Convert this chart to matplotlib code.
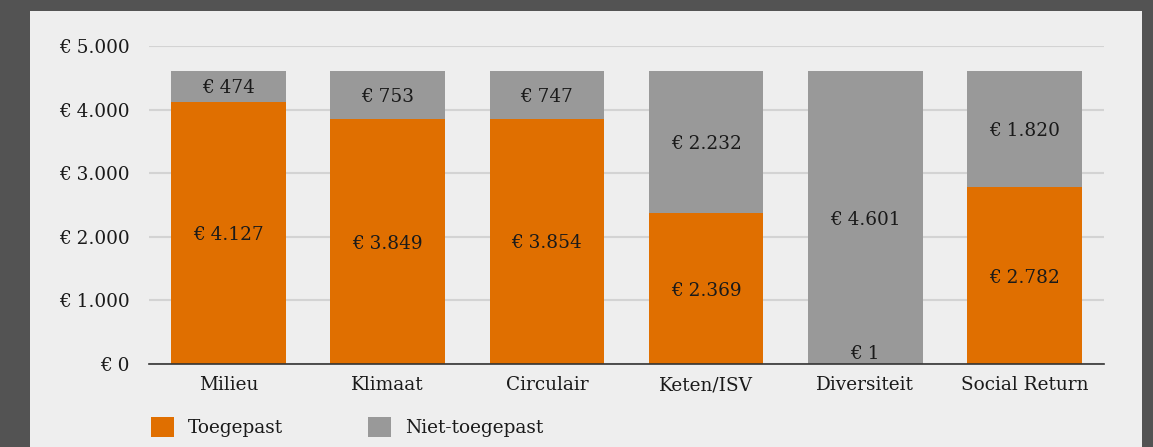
import matplotlib.pyplot as plt
import numpy as np
from matplotlib.patches import Patch

# data
categories = ["Milieu", "Klimaat", "Circulair", "Keten/ISV", "Diversiteit", "Social Return"]
toegepast = [4127, 3849, 3854, 2369, 1, 2782]
niet_toegepast = [474, 753, 747, 2232, 4601, 1820]
yticks = [0, 1000, 2000, 3000, 4000, 5000]

ORANGE = "#e06f00"
GREY = "#999999"
PANEL = "#eeeeee"
BORDER = "#535353"
TEXT = "#1a1a1a"

plt.rcParams["font.family"] = ["DejaVu Serif"]


def euro(v):
    return "€ " + f"{v:,}".replace(",", ".")


W, H = 1153, 447
fig = plt.figure(figsize=(W / 100, H / 100), dpi=100, facecolor=BORDER)

# light panel
bg = fig.add_axes([30 / W, 0, 1112 / W, 436 / H], zorder=-1)
bg.set_facecolor(PANEL)
bg.set_xticks([])
bg.set_yticks([])
for s in bg.spines.values():
    s.set_visible(False)

ax = fig.add_axes([149 / W, (H - 364) / H, 955 / W, 318 / H])
ax.set_facecolor("none")

x = np.arange(len(categories))
width = 0.72
ax.bar(x, toegepast, width, color=ORANGE, label="Toegepast", zorder=3)
ax.bar(x, niet_toegepast, width, bottom=toegepast, color=GREY,
       label="Niet-toegepast", zorder=3)

fs = 13.3
for xi, v in zip(x, toegepast):
    if v < 300:
        ax.annotate(euro(v), (xi, 0), xytext=(0, 1), textcoords="offset points",
                    ha="center", va="bottom", fontsize=fs, color=TEXT, zorder=4)
    else:
        ax.text(xi, v / 2, euro(v), ha="center", va="center_baseline",
                fontsize=fs, color=TEXT, zorder=4)
for xi, lo, v in zip(x, toegepast, niet_toegepast):
    ax.text(xi, lo + v / 2, euro(v), ha="center", va="center_baseline",
            fontsize=fs, color=TEXT, zorder=4)

ax.set_xlim(-0.5, len(categories) - 0.5)
ax.set_ylim(0, 5000)
ax.set_yticks(yticks)
ax.set_yticklabels([euro(t) for t in yticks])
ax.set_xticks(x)
ax.set_xticklabels(categories)
ax.tick_params(axis="both", length=0, labelsize=fs, colors=TEXT)
ax.tick_params(axis="y", pad=14)
ax.tick_params(axis="x", pad=9)
ax.grid(axis="y", color="#d3d3d3", linewidth=1.5, zorder=1)
for s in ["top", "right", "left"]:
    ax.spines[s].set_visible(False)
ax.spines["bottom"].set_color("#333333")
ax.spines["bottom"].set_linewidth(1.2)
ax.spines["bottom"].set_zorder(5)

handles = [Patch(facecolor=ORANGE, label="Toegepast"),
           Patch(facecolor=GREY, label="Niet-toegepast")]
fig.legend(handles=handles, loc="upper left",
           bbox_to_anchor=(151 / W, (H - 417) / H), ncol=2, frameon=False,
           fontsize=fs, borderpad=0, borderaxespad=0, handlelength=1.25,
           handleheight=1.25, handletextpad=0.75, columnspacing=4.6,
           labelcolor=TEXT)

fig.savefig("out.png", dpi=100, facecolor=BORDER)
